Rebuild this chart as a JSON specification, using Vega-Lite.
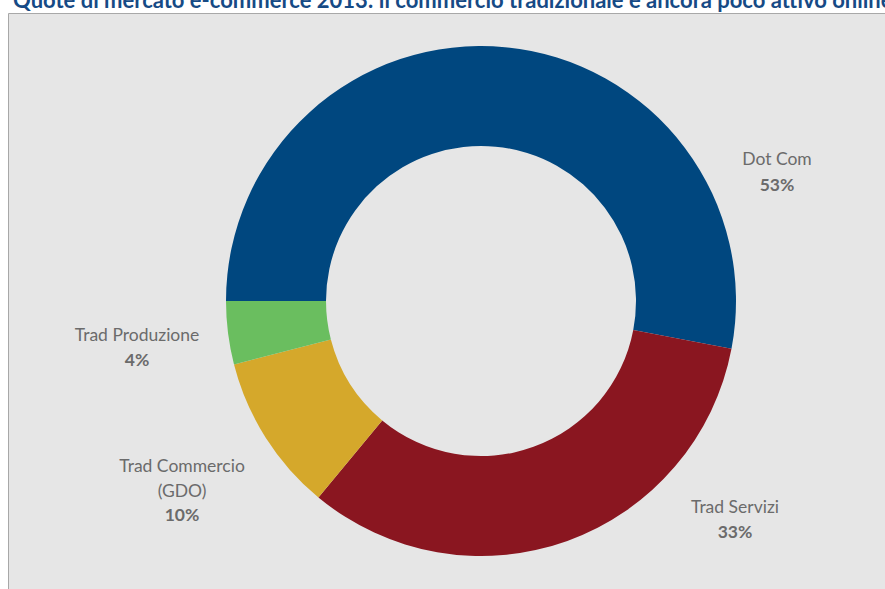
{
  "$schema": "https://vega.github.io/schema/vega-lite/v6.json",
  "autosize": {"type": "none"},
  "padding": {"left": 8, "top": 13, "right": 0, "bottom": 0},
  "width": 946,
  "height": 576,
  "background": "white",
  "view": {"fill": "#E6E6E6", "stroke": "#A8A8A8", "strokeWidth": 1},
  "config": {
    "text": {"font": "Lato", "fontSize": 17.5, "color": "#6B6B6B"}
  },
  "title": {
    "text": "Quote di mercato e-commerce 2013: il commercio tradizionale è ancora poco attivo online",
    "anchor": "start",
    "frame": "group",
    "orient": "top",
    "offset": -17,
    "baseline": "alphabetic",
    "dx": 5,
    "font": "Lato",
    "fontSize": 22,
    "fontWeight": "bold",
    "color": "#164A85"
  },
  "data": {
    "values": [
      {"cat": "Dot Com", "name": "Dot Com", "pct": "53%", "value": 53, "rank": 1},
      {"cat": "Trad Servizi", "name": "Trad Servizi", "pct": "33%", "value": 33, "rank": 2},
      {"cat": "Trad Commercio (GDO)", "name": "Trad Commercio\n(GDO)", "pct": "10%", "value": 10, "rank": 3},
      {"cat": "Trad Produzione", "name": "Trad Produzione", "pct": "4%", "value": 4, "rank": 4}
    ]
  },
  "encoding": {
    "theta": {"field": "value", "type": "quantitative", "stack": true, "scale": {"range": [4.71238898, 10.99557429]}},
    "order": {"field": "rank", "type": "quantitative"}
  },
  "layer": [
    {
      "mark": {"type": "arc", "outerRadius": 255, "innerRadius": 155, "stroke": null},
      "encoding": {
        "color": {
          "field": "cat",
          "type": "nominal",
          "legend": null,
          "scale": {
            "domain": ["Dot Com", "Trad Servizi", "Trad Commercio (GDO)", "Trad Produzione"],
            "range": ["#00477F", "#8A1620", "#D5A82B", "#6ABE5F"]
          }
        }
      }
    },
    {
      "transform": [{"filter": "datum.cat === 'Dot Com'"}],
      "mark": {"type": "text", "radius": 323, "dx": 265.6, "dy": 180.1, "baseline": "middle", "align": "center"},
      "encoding": {"text": {"field": "name"}}
    },
    {
      "transform": [{"filter": "datum.cat === 'Dot Com'"}],
      "mark": {"type": "text", "radius": 323, "dx": 265.6, "dy": 206.1, "baseline": "middle", "align": "center", "fontWeight": "bold"},
      "encoding": {"text": {"field": "pct"}}
    },
    {
      "transform": [{"filter": "datum.cat === 'Trad Servizi'"}],
      "mark": {"type": "text", "radius": 334, "dx": 424, "dy": 494, "baseline": "middle", "align": "center"},
      "encoding": {"text": {"field": "name"}}
    },
    {
      "transform": [{"filter": "datum.cat === 'Trad Servizi'"}],
      "mark": {"type": "text", "radius": 334, "dx": 424, "dy": 519, "baseline": "middle", "align": "center", "fontWeight": "bold"},
      "encoding": {"text": {"field": "pct"}}
    },
    {
      "transform": [{"filter": "datum.cat === 'Trad Commercio (GDO)'"}],
      "mark": {"type": "text", "radius": 354, "dx": 37.7, "dy": 275.1, "baseline": "middle", "align": "center", "lineBreak": "\n", "lineHeight": 25},
      "encoding": {"text": {"field": "name"}}
    },
    {
      "transform": [{"filter": "datum.cat === 'Trad Commercio (GDO)'"}],
      "mark": {"type": "text", "radius": 354, "dx": 37.7, "dy": 324.4, "baseline": "middle", "align": "center", "fontWeight": "bold"},
      "encoding": {"text": {"field": "pct"}}
    },
    {
      "transform": [{"filter": "datum.cat === 'Trad Produzione'"}],
      "mark": {"type": "text", "radius": 347, "dx": 0.3, "dy": 78, "baseline": "middle", "align": "center"},
      "encoding": {"text": {"field": "name"}}
    },
    {
      "transform": [{"filter": "datum.cat === 'Trad Produzione'"}],
      "mark": {"type": "text", "radius": 347, "dx": 0.3, "dy": 103, "baseline": "middle", "align": "center", "fontWeight": "bold"},
      "encoding": {"text": {"field": "pct"}}
    }
  ]
}
